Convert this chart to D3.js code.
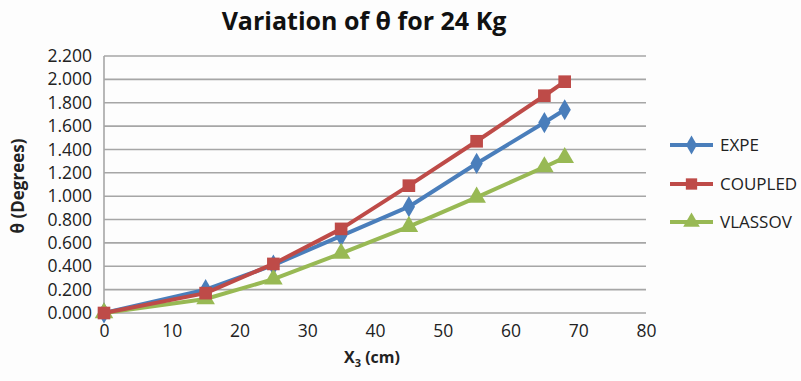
<!DOCTYPE html>
<html>
<head>
<meta charset="utf-8">
<script src="https://cdn.jsdelivr.net/npm/d3@7"></script>
<style>
  body { margin: 0; background: #fdfdfd; }
  text { font-family: "Open Sans", Lato, sans-serif; }
</style>
</head>
<body>
<div id="chart"></div>
<script>
// Chart data
const xValues = [0, 15, 25, 35, 45, 55, 65, 68];
const expe = [0, 0.20, 0.41, 0.66, 0.91, 1.28, 1.63, 1.74];
const coupled = [0, 0.17, 0.42, 0.72, 1.09, 1.47, 1.86, 1.98];
const vlassov = [0, 0.12, 0.29, 0.51, 0.74, 0.99, 1.25, 1.33];
const seriesNames = ['EXPE', 'COUPLED', 'VLASSOV'];
const yTicks = [0, 0.2, 0.4, 0.6, 0.8, 1.0, 1.2, 1.4, 1.6, 1.8, 2.0, 2.2];
const xTicks = [0, 10, 20, 30, 40, 50, 60, 70, 80];

const width = 801, height = 381;
const plotLeft = 104, plotRight = 646, plotTop = 56, plotBottom = 313;

const svg = d3.select('#chart').append('svg')
    .attr('width', width)
    .attr('height', height);

const x = d3.scaleLinear().domain([0, 80]).range([plotLeft, plotRight]);
const y = d3.scaleLinear().domain([0, 2.2]).range([plotBottom, plotTop]);

// Gridlines
svg.append('g')
    .selectAll('line')
    .data(yTicks)
    .enter()
    .append('line')
    .attr('x1', plotLeft)
    .attr('x2', plotRight)
    .attr('y1', d => y(d))
    .attr('y2', d => y(d))
    .attr('stroke', '#a6a6a6')
    .attr('stroke-width', 1.6);

// Left axis line
svg.append('line')
    .attr('x1', plotLeft).attr('x2', plotLeft)
    .attr('y1', plotTop).attr('y2', plotBottom)
    .attr('stroke', '#a6a6a6')
    .attr('stroke-width', 1.6);

// Y axis
const yAxis = svg.append('g')
    .attr('transform', 'translate(' + plotLeft + ',0)')
    .call(d3.axisLeft(y).tickValues(yTicks).tickFormat(d3.format('.3f')).tickSize(0).tickPadding(12));
yAxis.select('.domain').remove();
yAxis.selectAll('text')
    .attr('font-size', '17.5px')
    .attr('fill', '#222');

// X axis
const xAxis = svg.append('g')
    .attr('transform', 'translate(0,' + plotBottom + ')')
    .call(d3.axisBottom(x).tickValues(xTicks).tickSize(0).tickPadding(12));
xAxis.select('.domain').remove();
xAxis.selectAll('text')
    .attr('font-size', '17.5px')
    .attr('fill', '#222');

// Title
svg.append('text')
    .attr('x', 364)
    .attr('y', 30)
    .attr('text-anchor', 'middle')
    .attr('font-size', '25px')
    .attr('font-weight', 'bold')
    .attr('fill', '#111')
    .text('Variation of θ for 24 Kg');

// Axis titles
svg.append('text')
    .attr('transform', 'translate(24,186) rotate(-90)')
    .attr('text-anchor', 'middle')
    .attr('font-size', '17px')
    .attr('font-weight', 'bold')
    .attr('fill', '#222')
    .text('θ (Degrees)');

const xTitle = svg.append('text')
    .attr('x', 372)
    .attr('y', 363)
    .attr('text-anchor', 'middle')
    .attr('font-size', '16px')
    .attr('font-weight', 'bold')
    .attr('fill', '#222');
xTitle.append('tspan').text('X');
xTitle.append('tspan').attr('font-size', '11px').attr('dy', 4).text('3');
xTitle.append('tspan').attr('dy', -4).text(' (cm)');

// Series
const colors = ['#4a7ebb', '#be4b48', '#98b954'];
const seriesValues = [expe, coupled, vlassov];
const markers = [d3.symbolDiamond, d3.symbolSquare, d3.symbolTriangle];
const markerSizes = [130, 160, 150];

const line = d3.line()
    .x(d => x(d.x))
    .y(d => y(d.v));

// draw in order so red sits above blue near the start like the original
const drawOrder = [0, 2, 1];
drawOrder.forEach(function(i) {
    const pts = xValues.map((xv, j) => ({ x: xv, v: seriesValues[i][j] }));
    svg.append('path')
        .datum(pts)
        .attr('d', line)
        .attr('fill', 'none')
        .attr('stroke', colors[i])
        .attr('stroke-width', 4)
        .attr('stroke-linejoin', 'round');
    svg.append('g')
        .selectAll('path')
        .data(pts)
        .enter()
        .append('path')
        .attr('transform', d => 'translate(' + x(d.x) + ',' + y(d.v) + ')')
        .attr('d', d3.symbol().type(markers[i]).size(markerSizes[i]))
        .attr('fill', colors[i]);
});

// Legend
const legendY = [145, 184, 222];
seriesNames.forEach(function(name, i) {
    const g = svg.append('g').attr('transform', 'translate(670,' + legendY[i] + ')');
    g.append('line')
        .attr('x1', 0).attr('x2', 43)
        .attr('stroke', colors[i])
        .attr('stroke-width', 4);
    g.append('path')
        .attr('transform', 'translate(21.5,0)')
        .attr('d', d3.symbol().type(markers[i]).size(markerSizes[i] * 0.8))
        .attr('fill', colors[i]);
    g.append('text')
        .attr('x', 50)
        .attr('y', 6)
        .attr('font-size', '17px')
        .attr('fill', '#222')
        .text(name);
});
</script>
</body>
</html>
